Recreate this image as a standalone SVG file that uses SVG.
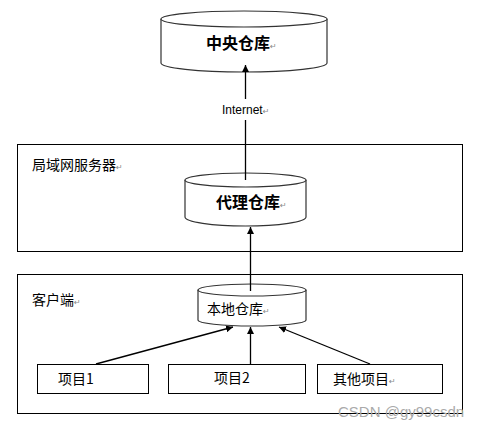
<svg xmlns="http://www.w3.org/2000/svg" width="481" height="430" viewBox="0 0 481 430">
<style>
.zone{fill:#fff;stroke:#000;stroke-width:1}
.cyl{fill:#fff;stroke:#333;stroke-width:1.2}
.box{fill:#fff;stroke:#000;stroke-width:1}
.t{font-family:"Noto Sans CJK SC","Liberation Sans",sans-serif;fill:#000}
.b{font-weight:bold;font-size:16px}
.n{font-size:14px}
.rm{font-family:"DejaVu Sans",sans-serif;font-size:8px;font-weight:normal;fill:#888}
.ln{stroke:#000;stroke-width:1.3;fill:none}
</style>
<defs>
<marker id="ah" viewBox="0 0 10 10" refX="10" refY="5" markerWidth="7" markerHeight="7" markerUnits="userSpaceOnUse" orient="auto">
<path d="M0,0 L10,5 L0,10 Z" fill="#000"/>
</marker>
</defs>
<rect width="481" height="430" fill="#fff"/>
<g id="zone-lan">
<rect class="zone" x="17.5" y="144.5" width="445" height="107"/>
<text class="t n" x="32" y="170">局域网服务器<tspan class="rm">↵</tspan></text>
</g>
<g id="zone-client">
<rect class="zone" x="17.5" y="274.5" width="445" height="139"/>
<text class="t n" x="32" y="305">客户端<tspan class="rm">↵</tspan></text>
</g>
<g id="central">
<path class="cyl" d="M161,19 L161,63 A83,9 0 0 0 327,63 L327,19 A83,8 0 0 0 161,19 Z"/>
<path class="cyl" d="M161,19 A83,8 0 0 0 327,19"/>
<text class="t b" x="206" y="49">中央仓库<tspan class="rm">↵</tspan></text>
</g>
<g id="proxy">
<path class="cyl" d="M185,180 L185,217 A60.5,9 0 0 0 306,217 L306,180 A60.5,7 0 0 0 185,180 Z"/>
<path class="cyl" d="M185,180 A60.5,7 0 0 0 306,180"/>
<text class="t b" x="216" y="208">代理仓库<tspan class="rm">↵</tspan></text>
</g>
<g id="local">
<path class="cyl" d="M198,290 L198,320 A54,6 0 0 0 306,320 L306,290 A54,6 0 0 0 198,290 Z"/>
<path class="cyl" d="M198,290 A54,6 0 0 0 306,290"/>
<text class="t n" x="207" y="314">本地仓库<tspan class="rm">↵</tspan></text>
</g>
<g id="item1">
<rect class="box" x="37.5" y="364.5" width="111" height="29"/>
<text class="t n" x="58" y="384">项目1</text>
</g>
<g id="item2">
<rect class="box" x="168.5" y="364.5" width="137" height="29"/>
<text class="t n" x="214" y="383">项目2</text>
</g>
<g id="item3">
<rect class="box" x="317.5" y="364.5" width="125" height="29"/>
<text class="t n" x="333" y="384">其他项目<tspan class="rm">↵</tspan></text>
</g>
<g id="connectors">
<line class="ln" x1="245.5" y1="180" x2="245.5" y2="120"/>
<line class="ln" x1="245.5" y1="99" x2="245.5" y2="65" marker-end="url(#ah)"/>
<text class="t" x="222" y="114" style="font-family:'Liberation Sans',sans-serif;font-size:12px">Internet<tspan class="rm">↵</tspan></text>
<line class="ln" x1="250.5" y1="291" x2="250.5" y2="227" marker-end="url(#ah)"/>
<line class="ln" x1="96" y1="364" x2="233" y2="327" marker-end="url(#ah)"/>
<line class="ln" x1="250.5" y1="364" x2="250.5" y2="327" marker-end="url(#ah)"/>
<line class="ln" x1="370" y1="364" x2="279" y2="327" marker-end="url(#ah)"/>
</g>
<text x="338" y="417" style="font-family:'Liberation Sans',sans-serif;font-size:15px;fill:#aaa">CSDN @gy99csdn</text>
</svg>
